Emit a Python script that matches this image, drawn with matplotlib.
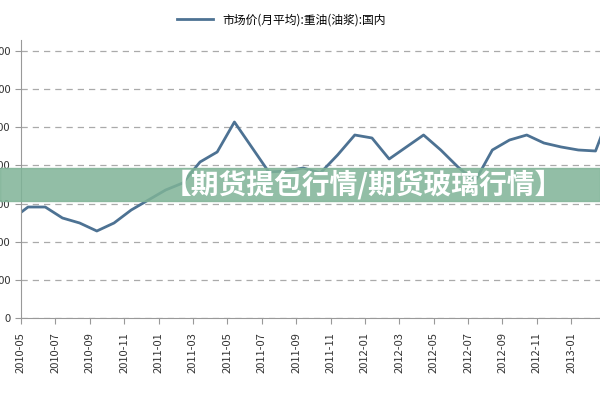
import matplotlib
matplotlib.use("Agg")
import matplotlib.pyplot as plt
from matplotlib.patches import Rectangle

plt.rcParams['font.family'] = ['Noto Sans CJK SC', 'DejaVu Sans']

months = list(range(-1, 35))
values = [2570, 2910, 2910, 2622, 2491, 2281, 2491, 2832, 3094, 3356, 3540, 4090,
          4353, 5139, 4484, 3828, 3854, 3933, 3802, 4274, 4798, 4720, 4169, 4484,
          4798, 4405, 3959, 3592, 4405, 4667, 4798, 4588, 4484, 4405, 4379, 5559]
tick_labels = ['2010-05', '2010-07', '2010-09', '2010-11', '2011-01', '2011-03', '2011-05',
               '2011-07', '2011-09', '2011-11', '2012-01', '2012-03', '2012-05', '2012-07',
               '2012-09', '2012-11', '2013-01']
yticks = [0, 1000, 2000, 3000, 4000, 5000, 6000, 7000]
legend_label = '市场价(月平均):重油(油浆):国内'
banner = '【期货提包行情/期货玻璃行情】'

fig = plt.figure(figsize=(6, 4), dpi=100)
ax = fig.add_axes([0.035, 0.205, 0.965, 0.695])
ax.plot(months, values, color='#4d7293', lw=2, label=legend_label)
ax.set_xlim(-0.41, 33.26)
ax.set_ylim(0, 7289)
ax.set_yticks(yticks)
ax.set_yticklabels([str(v) for v in yticks], fontsize=8, color='#333333')
ax.set_xticks([i * 2 - 0.41 for i in range(len(tick_labels))])
ax.set_xticklabels(tick_labels, rotation=90, fontsize=8, color='#333333')
ax.grid(axis='y', ls=(0, (5, 4)), color='#aaaaaa', lw=0.9)
for s in ['top', 'right']:
    ax.spines[s].set_visible(False)
for s in ['left', 'bottom']:
    ax.spines[s].set_color('#999999')
ax.tick_params(colors='#999999', labelcolor='#333333', length=4)
ax.tick_params(axis='x', pad=6)
ax.legend(loc='lower center', bbox_to_anchor=(0.45, 1.01), frameon=False, fontsize=8.5,
          handlelength=3)

fig.patches.append(Rectangle((0, 1 - 201 / 400), 1, 33 / 400, transform=fig.transFigure,
                             color='#7fb397', alpha=0.85, zorder=5))
fig.text(0.605, 1 - 185 / 400, banner, ha='center', va='center', fontsize=20,
         fontweight='bold', color='white', zorder=6)
fig.savefig('out.png', dpi=100)
